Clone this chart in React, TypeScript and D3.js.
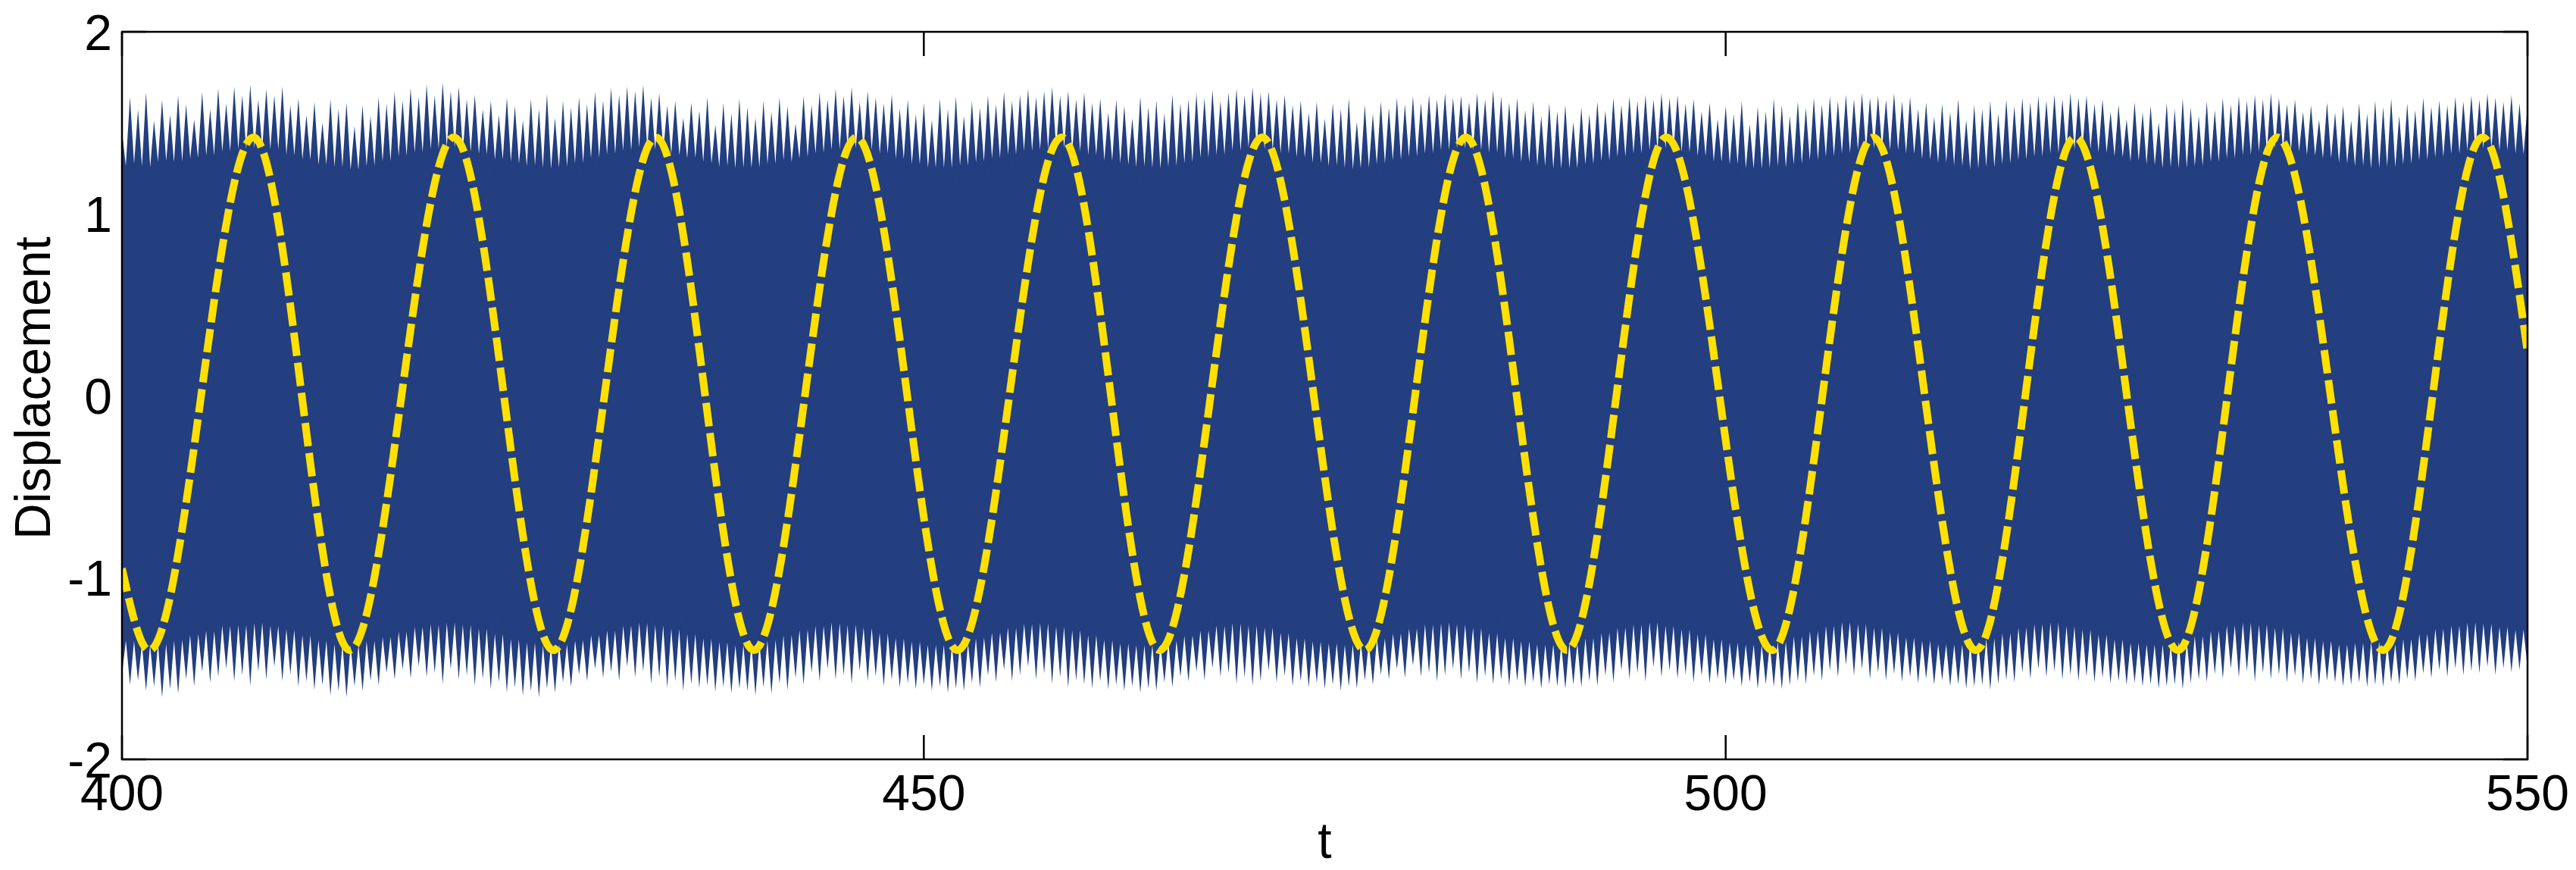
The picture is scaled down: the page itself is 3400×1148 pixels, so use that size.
import React from "react";
import * as d3 from "d3";

// ---------- data ----------
const xTicks = [400, 450, 500, 550];
const yTicks = [-2, -1, 0, 1, 2];

// fast response: spike tips every 0.5 t from t = 400 to 550 (upper / lower)
const upperTips = [
  1.42, 1.58, 1.52, 1.60, 1.47, 1.57, 1.50, 1.59, 1.55, 1.48, 1.61, 1.53, 1.63, 1.56, 1.64, 1.60, 1.65, 1.58, 1.63, 1.60,
  1.64, 1.55, 1.58, 1.50, 1.56, 1.46, 1.57, 1.52, 1.55, 1.44, 1.54, 1.49, 1.58, 1.55, 1.61, 1.57, 1.63, 1.59, 1.65, 1.60,
  1.66, 1.62, 1.64, 1.58, 1.60, 1.53, 1.57, 1.50, 1.58, 1.54, 1.47, 1.57, 1.52, 1.59, 1.48, 1.56, 1.53, 1.58, 1.55, 1.61,
  1.57, 1.63, 1.60, 1.64, 1.62, 1.65, 1.59, 1.61, 1.55, 1.57, 1.49, 1.56, 1.52, 1.58, 1.45, 1.55, 1.50, 1.57, 1.53, 1.48,
  1.56, 1.51, 1.58, 1.54, 1.46, 1.59, 1.55, 1.61, 1.58, 1.63, 1.60, 1.64, 1.57, 1.62, 1.59, 1.56, 1.60, 1.53, 1.57, 1.50,
  1.55, 1.47, 1.57, 1.52, 1.58, 1.49, 1.56, 1.53, 1.59, 1.55, 1.61, 1.57, 1.60, 1.63, 1.59, 1.62, 1.64, 1.60, 1.62, 1.58,
  1.61, 1.56, 1.58, 1.51, 1.57, 1.54, 1.48, 1.58, 1.53, 1.56, 1.50, 1.59, 1.55, 1.57, 1.60, 1.58, 1.62, 1.57, 1.61, 1.63,
  1.60, 1.64, 1.61, 1.62, 1.58, 1.60, 1.55, 1.57, 1.51, 1.56, 1.48, 1.55, 1.52, 1.57, 1.46, 1.54, 1.50, 1.56, 1.53, 1.58,
  1.55, 1.59, 1.56, 1.60, 1.58, 1.61, 1.59, 1.60, 1.57, 1.61, 1.58, 1.62, 1.59, 1.56, 1.58, 1.52, 1.56, 1.49, 1.55, 1.51,
  1.54, 1.46, 1.53, 1.50, 1.56, 1.52, 1.58, 1.55, 1.59, 1.57, 1.60, 1.58, 1.61, 1.59, 1.60, 1.56, 1.58, 1.52, 1.56, 1.48,
  1.54, 1.50, 1.56, 1.45, 1.53, 1.51, 1.57, 1.54, 1.49, 1.56, 1.53, 1.58, 1.55, 1.59, 1.57, 1.60, 1.58, 1.61, 1.59, 1.60,
  1.58, 1.61, 1.57, 1.59, 1.53, 1.56, 1.49, 1.55, 1.51, 1.57, 1.47, 1.54, 1.52, 1.56, 1.50, 1.57, 1.54, 1.58, 1.56, 1.59,
  1.57, 1.60, 1.58, 1.61, 1.59, 1.60, 1.56, 1.58, 1.52, 1.55, 1.48, 1.56, 1.51, 1.54, 1.46, 1.55, 1.52, 1.57, 1.53, 1.49,
  1.56, 1.52, 1.58, 1.55, 1.59, 1.57, 1.60, 1.58, 1.61, 1.59, 1.56, 1.58, 1.52, 1.55, 1.48, 1.56, 1.51, 1.54, 1.47, 1.55,
  1.50, 1.56, 1.53, 1.57, 1.49, 1.55, 1.52, 1.58, 1.54, 1.57, 1.55, 1.59, 1.57, 1.60, 1.58, 1.61, 1.59, 1.57, 1.60, 1.56,
  1.55,
];

const lowerTips = [
  -1.50, -1.55, -1.53, -1.58, -1.56, -1.61, -1.57, -1.59, -1.52, -1.55, -1.48, -1.53, -1.50, -1.46, -1.52, -1.49, -1.54, -1.47, -1.51, -1.45,
  -1.52, -1.49, -1.55, -1.53, -1.57, -1.55, -1.60, -1.58, -1.61, -1.56, -1.58, -1.53, -1.55, -1.49, -1.52, -1.47, -1.51, -1.45, -1.50, -1.48,
  -1.53, -1.46, -1.51, -1.49, -1.54, -1.51, -1.56, -1.53, -1.58, -1.56, -1.60, -1.58, -1.61, -1.57, -1.59, -1.54, -1.56, -1.50, -1.53, -1.47,
  -1.51, -1.48, -1.52, -1.45, -1.50, -1.47, -1.53, -1.50, -1.55, -1.52, -1.57, -1.54, -1.56, -1.55, -1.58, -1.56, -1.59, -1.57, -1.58, -1.60,
  -1.56, -1.59, -1.54, -1.57, -1.51, -1.54, -1.48, -1.52, -1.46, -1.51, -1.49, -1.53, -1.47, -1.52, -1.50, -1.55, -1.52, -1.56, -1.54, -1.57,
  -1.55, -1.58, -1.56, -1.59, -1.57, -1.58, -1.54, -1.56, -1.50, -1.53, -1.47, -1.52, -1.49, -1.45, -1.51, -1.48, -1.53, -1.50, -1.55, -1.52,
  -1.54, -1.56, -1.53, -1.57, -1.55, -1.58, -1.56, -1.59, -1.57, -1.58, -1.54, -1.56, -1.51, -1.53, -1.48, -1.52, -1.46, -1.50, -1.48, -1.53,
  -1.50, -1.54, -1.52, -1.47, -1.53, -1.50, -1.55, -1.53, -1.56, -1.54, -1.57, -1.55, -1.58, -1.56, -1.57, -1.53, -1.55, -1.50, -1.52, -1.47,
  -1.51, -1.45, -1.50, -1.48, -1.52, -1.49, -1.46, -1.51, -1.48, -1.53, -1.50, -1.54, -1.52, -1.55, -1.53, -1.56, -1.54, -1.57, -1.55, -1.56,
  -1.57, -1.55, -1.56, -1.53, -1.55, -1.50, -1.53, -1.47, -1.51, -1.48, -1.52, -1.45, -1.50, -1.47, -1.51, -1.49, -1.53, -1.50, -1.54, -1.52,
  -1.55, -1.53, -1.56, -1.54, -1.57, -1.55, -1.56, -1.57, -1.55, -1.53, -1.54, -1.50, -1.52, -1.47, -1.50, -1.44, -1.49, -1.46, -1.51, -1.48,
  -1.52, -1.49, -1.53, -1.51, -1.54, -1.52, -1.55, -1.53, -1.56, -1.55, -1.57, -1.56, -1.55, -1.57, -1.54, -1.52, -1.53, -1.48, -1.51, -1.46,
  -1.50, -1.47, -1.51, -1.49, -1.52, -1.50, -1.53, -1.51, -1.54, -1.53, -1.55, -1.54, -1.56, -1.55, -1.57, -1.56, -1.55, -1.57, -1.54, -1.52,
  -1.53, -1.49, -1.51, -1.46, -1.50, -1.47, -1.52, -1.48, -1.51, -1.49, -1.53, -1.50, -1.54, -1.52, -1.55, -1.53, -1.54, -1.56, -1.55, -1.54,
  -1.56, -1.55, -1.56, -1.54, -1.55, -1.52, -1.53, -1.49, -1.51, -1.47, -1.50, -1.46, -1.49, -1.47, -1.48, -1.45, -1.49, -1.46, -1.48, -1.47,
  -1.46,
];

// solid core edge of the fast response, every 1 t from t = 400 to 550
const upperCore = [
  1.22, 1.20, 1.24, 1.23, 1.26, 1.27, 1.29, 1.30, 1.31, 1.30,
  1.27, 1.25, 1.22, 1.20, 1.19, 1.21, 1.23, 1.26, 1.28, 1.30,
  1.31, 1.29, 1.28, 1.25, 1.23, 1.21, 1.19, 1.20, 1.22, 1.25,
  1.27, 1.29, 1.31, 1.30, 1.28, 1.26, 1.23, 1.21, 1.19, 1.20,
  1.22, 1.24, 1.26, 1.28, 1.30, 1.31, 1.30, 1.28, 1.25, 1.22,
  1.20, 1.19, 1.21, 1.23, 1.25, 1.27, 1.29, 1.30, 1.31, 1.29,
  1.27, 1.24, 1.22, 1.20, 1.19, 1.20, 1.22, 1.25, 1.27, 1.29,
  1.31, 1.30, 1.28, 1.26, 1.23, 1.21, 1.19, 1.20, 1.22, 1.24,
  1.26, 1.28, 1.30, 1.31, 1.30, 1.28, 1.25, 1.23, 1.21, 1.19,
  1.20, 1.22, 1.24, 1.26, 1.28, 1.30, 1.31, 1.29, 1.27, 1.24,
  1.22, 1.20, 1.19, 1.20, 1.22, 1.24, 1.26, 1.28, 1.30, 1.31,
  1.30, 1.28, 1.25, 1.23, 1.21, 1.19, 1.20, 1.22, 1.24, 1.26,
  1.28, 1.30, 1.31, 1.29, 1.27, 1.24, 1.22, 1.20, 1.19, 1.21,
  1.23, 1.25, 1.27, 1.29, 1.31, 1.30, 1.28, 1.26, 1.23, 1.21,
  1.19, 1.20, 1.22, 1.24, 1.26, 1.28, 1.30, 1.31, 1.30, 1.28,
  1.26,
];

const lowerCore = [
  -1.31, -1.33, -1.32, -1.30, -1.27, -1.25, -1.22, -1.21, -1.20, -1.22,
  -1.24, -1.27, -1.30, -1.32, -1.33, -1.31, -1.29, -1.26, -1.23, -1.21,
  -1.20, -1.21, -1.23, -1.26, -1.29, -1.31, -1.33, -1.33, -1.31, -1.28,
  -1.25, -1.22, -1.20, -1.21, -1.23, -1.26, -1.29, -1.31, -1.33, -1.32,
  -1.30, -1.27, -1.24, -1.22, -1.20, -1.21, -1.23, -1.26, -1.29, -1.31,
  -1.33, -1.33, -1.32, -1.29, -1.26, -1.23, -1.21, -1.20, -1.22, -1.24,
  -1.27, -1.30, -1.32, -1.33, -1.33, -1.31, -1.28, -1.25, -1.22, -1.20,
  -1.21, -1.23, -1.26, -1.29, -1.31, -1.32, -1.33, -1.32, -1.30, -1.27,
  -1.24, -1.21, -1.20, -1.21, -1.23, -1.26, -1.29, -1.31, -1.33, -1.33,
  -1.32, -1.29, -1.26, -1.23, -1.21, -1.20, -1.22, -1.24, -1.27, -1.30,
  -1.32, -1.33, -1.33, -1.31, -1.28, -1.25, -1.22, -1.20, -1.21, -1.23,
  -1.26, -1.29, -1.31, -1.33, -1.33, -1.32, -1.29, -1.26, -1.23, -1.21,
  -1.20, -1.22, -1.24, -1.27, -1.30, -1.32, -1.33, -1.33, -1.31, -1.28,
  -1.25, -1.22, -1.20, -1.21, -1.23, -1.26, -1.29, -1.31, -1.33, -1.32,
  -1.31, -1.33, -1.30, -1.27, -1.24, -1.22, -1.20, -1.21, -1.23, -1.25,
  -1.27,
];

// slow response (yellow dashed): start, extremes, end
const slowT = [400, 401.7, 408.2, 414.2, 420.7, 426.9, 433.3, 439.4, 445.8, 452.1, 458.6, 464.7, 471.1,
  477.5, 483.8, 490.1, 496.3, 502.9, 509.2, 515.6, 521.8, 528.2, 534.4, 541.0, 547.2, 550];
const slowY = [-0.95, -1.40, 1.42, -1.40, 1.42, -1.40, 1.42, -1.40, 1.42, -1.40, 1.42, -1.40, 1.42,
  -1.40, 1.42, -1.40, 1.42, -1.40, 1.42, -1.40, 1.42, -1.40, 1.42, -1.40, 1.42, 0.24];

const TIP_STEP = 0.5;
const T0 = 400;

export default function App() {
  const left = 161, right = 3336, top = 42, bottom = 1002;
  const x = d3.scaleLinear().domain([400, 550]).range([left, right]);
  const y = d3.scaleLinear().domain([-2, 2]).range([bottom, top]);

  // polygon of the fast response: spike tips alternating with core edge
  const pts: [number, number][] = [];
  for (let i = 0; i < upperTips.length; i++) {
    const t = T0 + i * TIP_STEP;
    pts.push([t, upperTips[i]]);
    if (i < upperTips.length - 1) pts.push([t + TIP_STEP / 2, upperCore[Math.floor(i * TIP_STEP)]]);
  }
  for (let i = lowerTips.length - 1; i >= 0; i--) {
    const t = T0 + i * TIP_STEP;
    if (i < lowerTips.length - 1) pts.push([t + TIP_STEP / 2, lowerCore[Math.floor(i * TIP_STEP)]]);
    pts.push([t, lowerTips[i]]);
  }
  const bandPath = d3
    .line<[number, number]>()
    .x((d) => x(d[0]))
    .y((d) => y(d[1]))(pts) + "Z";

  const slowPath = d3
    .line<number>()
    .x((_, i) => x(slowT[i]))
    .y((d) => y(d))
    .curve(d3.curveMonotoneX)(slowY) as string;

  const font = "'Liberation Sans', Arial, Helvetica, sans-serif";
  const fs = 66;
  const tickLen = 32;
  const blue = "#233F80";
  const yellow = "#FFE000";

  return (
    <svg
      width={3400}
      height={1148}
      style={{ position: "absolute", left: 0, top: 0, background: "#fff" }}
      fontFamily={font}
    >
      <rect x={0} y={0} width={3400} height={1148} fill="#fff" />
      <defs>
        <clipPath id="plotclip">
          <rect x={left} y={top} width={right - left} height={bottom - top} />
        </clipPath>
      </defs>

      {/* ticks (below data) */}
      <g stroke="#000" strokeWidth={2.5}>
        {xTicks.map((t) => (
          <g key={"xt" + t}>
            <line x1={x(t)} x2={x(t)} y1={bottom} y2={bottom - tickLen} />
            <line x1={x(t)} x2={x(t)} y1={top} y2={top + tickLen} />
          </g>
        ))}
        {yTicks.map((v) => (
          <g key={"yt" + v}>
            <line x1={left} x2={left + tickLen} y1={y(v)} y2={y(v)} />
            <line x1={right} x2={right - tickLen} y1={y(v)} y2={y(v)} />
          </g>
        ))}
      </g>

      <g clipPath="url(#plotclip)">
        <path d={bandPath} fill={blue} stroke={blue} strokeWidth={1.8} strokeLinejoin="miter" strokeMiterlimit={20} />
        <path
          d={slowPath}
          fill="none"
          stroke={yellow}
          strokeWidth={10}
          strokeDasharray="31 9"
          strokeLinecap="butt"
        />
      </g>

      {/* box */}
      <rect x={left} y={top} width={right - left} height={bottom - top} fill="none" stroke="#000" strokeWidth={2.5} />

      {/* tick labels */}
      {xTicks.map((t) => (
        <text key={"xl" + t} x={x(t)} y={1069} fontSize={fs} textAnchor="middle" fill="#000">
          {t}
        </text>
      ))}
      {yTicks.map((v) => (
        <text key={"yl" + v} x={148} y={y(v) + fs * 0.36} fontSize={fs} textAnchor="end" fill="#000">
          {v}
        </text>
      ))}

      {/* axis labels */}
      <text x={(left + right) / 2} y={1132} fontSize={fs} textAnchor="middle" fill="#000">
        t
      </text>
      <text
        transform={`translate(66, ${(top + bottom) / 2 - 10}) rotate(-90)`}
        fontSize={fs}
        textAnchor="middle"
        fill="#000"
      >
        Displacement
      </text>
    </svg>
  );
}
